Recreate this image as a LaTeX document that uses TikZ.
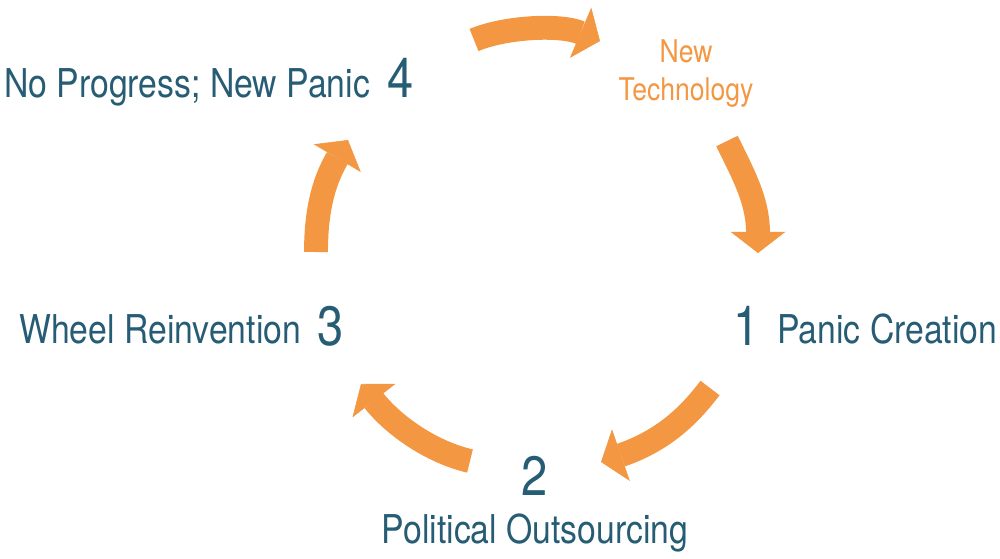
\documentclass[tikz,border=0pt]{standalone}
\usepackage{fontspec}
\setmainfont{TeX Gyre Heros}[FakeStretch=0.85]
\usetikzlibrary{arrows.meta}
\definecolor{arrorange}{RGB}{243,151,66}
\definecolor{labteal}{RGB}{38,92,116}
\begin{document}
\begin{tikzpicture}[x=0.02cm,y=-0.02cm,
  flow/.style={draw=arrorange, line width=13.6pt,
    -{Triangle[length=12pt,width=31pt,line width'=0.3pt,fill=arrorange,color=arrorange]}},
  lab/.style={text=labteal, inner sep=0pt, font=\fontsize{22.6}{26}\selectfont},
  num/.style={text=labteal, inner sep=0pt, font=\fontsize{31.5}{36}\selectfont},
  tech/.style={text=arrorange, inner sep=0pt, align=center, font=\fontsize{17.8}{21.5}\selectfont}]
\useasboundingbox (0,0) rectangle (1000,558);

% labels
\node[lab, anchor=base west] (l4) at (4,97) {No Progress; New Panic};
\node[num, anchor=base west] (n4) at (387,97) {4};
\node[tech, anchor=base] (nt1) at (686,62) {New};
\node[tech, anchor=base] (nt2) at (686,100) {Technology};
\node[num, anchor=base west] (n1) at (733,345) {1};
\node[lab, anchor=base west] (l1) at (777,343) {Panic Creation};
\node[num, anchor=base] (n2) at (535,495) {2};
\node[lab, anchor=base] (l2) at (535,543) {Political Outsourcing};
\node[lab, anchor=base west] (l3) at (19,343) {Wheel Reinvention};
\node[num, anchor=base west] (n3) at (317,345) {3};

% arrow end points
\coordinate (a1s) at (474,40);  \coordinate (a1e) at (600,41);
\coordinate (a2s) at (727,141); \coordinate (a2e) at (758,253);
\coordinate (a3s) at (710,388); \coordinate (a3e) at (601,462);
\coordinate (a4s) at (470,461); \coordinate (a4e) at (361,384);
\coordinate (a5s) at (316,252); \coordinate (a5e) at (348,140);

\draw[flow] (a1s) .. controls (505,27) and (560,24) .. (a1e);
\draw[flow] (a2s) .. controls (742,172) and (758,200) .. (a2e);
\draw[flow] (a3s) .. controls (686,420) and (659,442) .. (a3e);
\draw[flow] (a4s) .. controls (431,452) and (393,425) .. (a4e);
\draw[flow] (a5s) .. controls (316,215) and (322,184) .. (a5e);
\end{tikzpicture}
\end{document}
